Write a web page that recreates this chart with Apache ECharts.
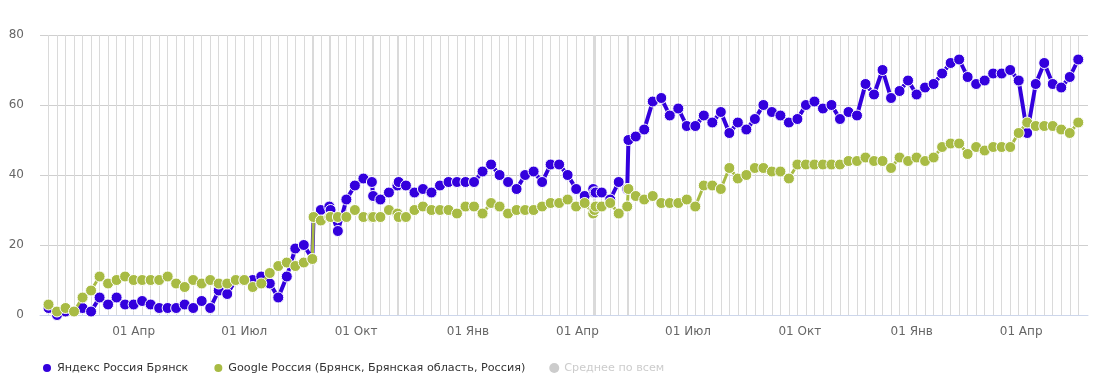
<!DOCTYPE html>
<html>
<head>
<meta charset="utf-8">
<script src="https://cdn.jsdelivr.net/npm/echarts@6/dist/echarts.min.js"></script>
<style>
html,body{margin:0;padding:0;background:#fff;}
#chart{width:1101px;height:390px;}
</style>
</head>
<body>
<div id="chart"></div>
<script>
const dates = [
'2017-01-21','2017-01-28','2017-02-04','2017-02-11','2017-02-18','2017-02-25','2017-03-04','2017-03-11','2017-03-18','2017-03-25',
'2017-04-01','2017-04-08','2017-04-15','2017-04-22','2017-04-29','2017-05-06','2017-05-13','2017-05-20','2017-05-27','2017-06-03',
'2017-06-10','2017-06-17','2017-06-24','2017-07-01','2017-07-08','2017-07-15','2017-07-22','2017-07-29','2017-08-05','2017-08-12',
'2017-08-19','2017-08-26','2017-08-27','2017-09-02','2017-09-09','2017-09-10','2017-09-16','2017-09-23','2017-09-30','2017-10-07',
'2017-10-14','2017-10-15','2017-10-21','2017-10-28','2017-11-04','2017-11-05','2017-11-11','2017-11-18','2017-11-25','2017-12-02',
'2017-12-09','2017-12-16','2017-12-23','2017-12-30','2018-01-06','2018-01-13','2018-01-20','2018-01-27','2018-02-03','2018-02-10',
'2018-02-17','2018-02-24','2018-03-03','2018-03-10','2018-03-17','2018-03-24','2018-03-31','2018-04-07','2018-04-14','2018-04-15',
'2018-04-16','2018-04-21','2018-04-28','2018-05-05','2018-05-12','2018-05-13','2018-05-19','2018-05-26','2018-06-02','2018-06-09',
'2018-06-16','2018-06-23','2018-06-30','2018-07-07','2018-07-14','2018-07-21','2018-07-28','2018-08-04','2018-08-11','2018-08-18',
'2018-08-25','2018-09-01','2018-09-08','2018-09-15','2018-09-22','2018-09-29','2018-10-06','2018-10-13','2018-10-20','2018-10-27',
'2018-11-03','2018-11-10','2018-11-17','2018-11-24','2018-12-01','2018-12-08','2018-12-15','2018-12-22','2018-12-29','2019-01-05',
'2019-01-12','2019-01-19','2019-01-26','2019-02-02','2019-02-09','2019-02-16','2019-02-23','2019-03-02','2019-03-09','2019-03-16',
'2019-03-23','2019-03-30','2019-04-06','2019-04-13','2019-04-20','2019-04-27','2019-05-04','2019-05-11','2019-05-18'
];
const yandex = [
2,0,1,1,2,1,5,3,5,3,
3,4,3,2,2,2,3,2,4,2,
7,6,10,10,10,11,9,5,11,19,
20,16,28,30,31,30,24,33,37,39,
38,34,33,35,37,38,37,35,36,35,
37,38,38,38,38,41,43,40,38,36,
40,41,38,43,43,40,36,34,36,35,
35,35,33,38,36,50,51,53,61,62,
57,59,54,54,57,55,58,52,55,53,
56,60,58,57,55,56,60,61,59,60,
56,58,57,66,63,70,62,64,67,63,
65,66,69,72,73,68,66,67,69,69,
70,67,52,66,72,66,65,68,73
];
const google = [
3,1,2,1,5,7,11,9,10,11,
10,10,10,10,11,9,8,10,9,10,
9,9,10,10,8,9,12,14,15,14,
15,16,28,27,28,28,28,28,30,28,
28,28,28,30,29,28,28,30,31,30,
30,30,29,31,31,29,32,31,29,30,
30,30,31,32,32,33,31,32,29,30,
31,31,32,29,31,36,34,33,34,32,
32,32,33,31,37,37,36,42,39,40,
42,42,41,41,39,43,43,43,43,43,
43,44,44,45,44,44,42,45,44,45,
44,45,48,49,49,46,48,47,48,48,
48,52,55,54,54,54,53,52,55
];
const monthLabels = ['Янв','Фев','Мар','Апр','Май','Июн','Июл','Авг','Сен','Окт','Ноя','Дек'];
const yTicks = {min: 0, max: 80, interval: 20};
const seriesNames = ['Яндекс Россия Брянск','Google Россия (Брянск, Брянская область, Россия)','Среднее по всем'];

const font = '"DejaVu Sans", Verdana, sans-serif';
const chart = echarts.init(document.getElementById('chart'), null, {renderer: 'canvas'});
const pairs = arr => dates.map((d, i) => [d, arr[i]]);

chart.setOption({
  animation: false,
  backgroundColor: '#ffffff',
  textStyle: {fontFamily: font},
  grid: {left: 40, right: 13, top: 35, bottom: 75, containLabel: false},
  legend: {
    data: seriesNames,
    left: 36, top: 357,
    icon: 'circle', itemWidth: 10, itemHeight: 10, itemGap: 24,
    textStyle: {color: '#333333', fontSize: 11.2, fontFamily: font},
    inactiveColor: '#cccccc',
    selected: {'Среднее по всем': false}
  },
  xAxis: {
    type: 'time',
    min: '2017-01-14', max: '2019-05-26',
    axisLine: {show: true, lineStyle: {color: '#ccd6eb', width: 1}},
    axisTick: {show: false},
    splitLine: {show: false},
    axisLabel: {
      color: '#666666', fontSize: 12, fontFamily: font, margin: 11,
      showMinLabel: true, showMaxLabel: true,
      formatter: function (value) {
        const d = new Date(value);
        if (d.getDate() !== 1 || d.getMonth() % 3 !== 0) return '';
        return '01 ' + monthLabels[d.getMonth()];
      }
    }
  },
  yAxis: {
    type: 'value',
    min: yTicks.min, max: yTicks.max, interval: yTicks.interval,
    axisLine: {show: false}, axisTick: {show: false},
    splitLine: {lineStyle: {color: '#cfcfcf', width: 1}},
    axisLabel: {color: '#666666', fontSize: 12, fontFamily: font, margin: 16}
  },
  series: [
    {
      name: seriesNames[0], type: 'line', data: pairs(yandex),
      color: '#3300dd', showAllSymbol: true,
      symbol: 'circle', symbolSize: 11,
      lineStyle: {width: 4, color: '#3300dd'},
      itemStyle: {color: '#3300dd', borderColor: '#ffffff', borderWidth: 1},
      z: 2,
      markLine: {
        silent: true, z: 1, animation: false,
        symbol: ['none', 'none'],
        label: {show: false},
        emphasis: {disabled: true},
        lineStyle: {color: '#dadada', width: 1, type: 'solid'},
        data: dates.map(d => ({xAxis: d}))
      }
    },
    {
      name: seriesNames[1], type: 'line', data: pairs(google),
      color: '#a8bb44', showAllSymbol: true,
      symbol: 'circle', symbolSize: 11,
      lineStyle: {width: 3, color: '#a8bb44'},
      itemStyle: {color: '#a8bb44', borderColor: '#ffffff', borderWidth: 1},
      z: 3
    },
    {
      name: seriesNames[2], type: 'line', data: [],
      color: '#cccccc', symbol: 'circle'
    }
  ]
});
</script>
</body>
</html>
